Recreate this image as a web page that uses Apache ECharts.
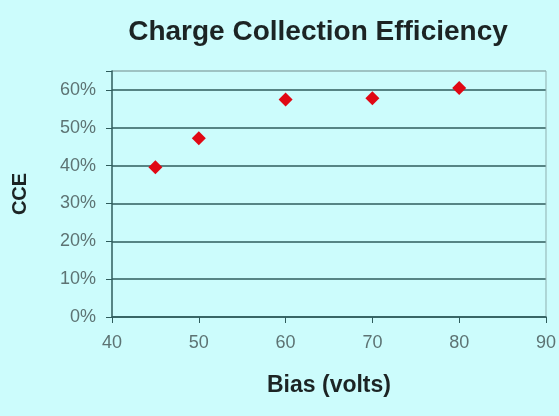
<!DOCTYPE html>
<html><head><meta charset="utf-8">
<script src="https://cdn.jsdelivr.net/npm/echarts@6/dist/echarts.min.js"></script>
<style>html,body{margin:0;padding:0;background:#ccfcfc}#c{width:559px;height:416px}</style>
</head><body><div id="c"></div>
<script>
const biasVolts = [45, 50, 60, 70, 80];
const cceValues = [0.396, 0.472, 0.575, 0.578, 0.605];
const chartTitle = 'Charge Collection Efficiency';
const xTitle = 'Bias (volts)';
const yTitle = 'CCE';

const dark = '#2f5c5c';
const chart = echarts.init(document.getElementById('c'));
chart.setOption({
  backgroundColor: '#ccfcfc',
  animation: false,
  title: {text: chartTitle, left: 313, top: 13, textAlign: 'center',
    textStyle: {fontFamily: 'Liberation Sans', fontWeight: 'bold', fontSize: 28, color: '#1c2424'}},
  grid: {left: 112, right: 13, top: 71, bottom: 99},
  xAxis: {type: 'value', min: 40, max: 90, interval: 10,
    name: xTitle, nameLocation: 'middle', nameGap: 57,
    nameTextStyle: {fontFamily: 'Liberation Sans', fontWeight: 'bold', fontSize: 23, color: '#1c2424'},
    axisLine: {show: true, lineStyle: {color: dark, width: 1.5}},
    axisTick: {show: true, length: 6, lineStyle: {color: dark}},
    axisLabel: {fontFamily: 'Liberation Sans', fontSize: 18, color: '#5d7373', margin: 17},
    splitLine: {show: false}},
  yAxis: {type: 'value', min: 0, max: 0.65, interval: 0.1,
    name: yTitle, nameLocation: 'middle', nameGap: 82, nameRotate: 90,
    nameTextStyle: {fontFamily: 'Liberation Sans', fontWeight: 'bold', fontSize: 20, color: '#1c2424'},
    axisLine: {show: true, lineStyle: {color: dark, width: 1.5}},
    axisTick: {show: true, length: 6, lineStyle: {color: dark}},
    axisLabel: {fontFamily: 'Liberation Sans', fontSize: 18, color: '#5d7373', margin: 16,
      formatter: v => (Math.abs(v*10 - Math.round(v*10)) < 1e-6) ? Math.round(v*100) + '%' : ''},
    splitLine: {show: true, lineStyle: {color: [dark, dark, dark, dark, dark, dark, dark, '#8fb0b0'], width: 1.5}}},
  series: [{type: 'scatter', data: biasVolts.map((x, i) => [x, cceValues[i]]),
    symbol: 'diamond', symbolSize: 14, itemStyle: {color: '#e00814', opacity: 1}}]
});
const p1 = chart.convertToPixel({gridIndex: 0}, [90, 0]);
const p2 = chart.convertToPixel({gridIndex: 0}, [90, 0.65]);
chart.setOption({graphic: [{type: 'line', shape: {x1: p1[0], y1: p1[1], x2: p2[0], y2: p2[1]},
  style: {stroke: '#8fb0b0', lineWidth: 1}}]});
</script></body></html>
